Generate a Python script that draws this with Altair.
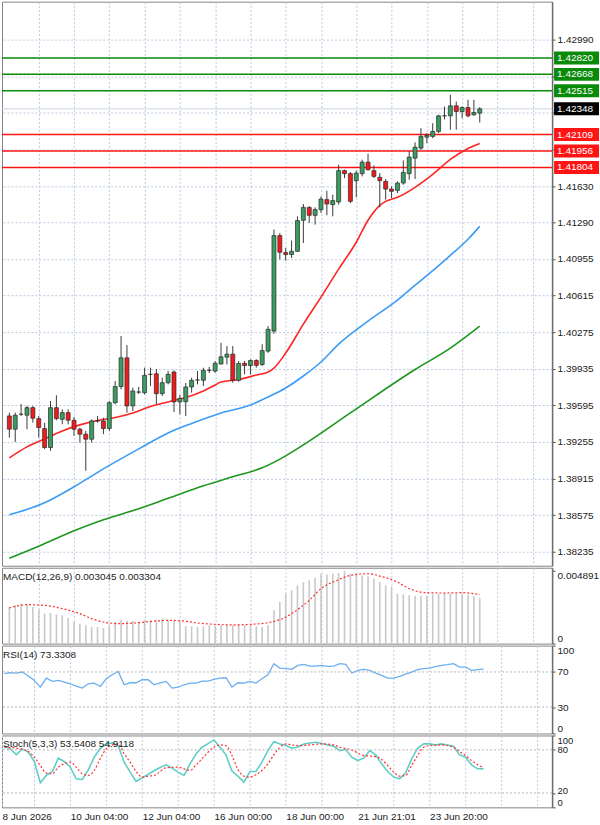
import altair as alt
import pandas as pd

# ---------------- price data (H4 candles) ----------------
open_ = [
    1.39496, 1.39373, 1.39512, 1.39503, 1.39573, 1.39471, 1.39379, 1.39203, 1.39573, 1.39465,
    1.39527, 1.39456, 1.39373, 1.39327, 1.39280, 1.39450, 1.39450, 1.39379, 1.39619, 1.39769,
    1.40036, 1.39589, 1.39718, 1.39712, 1.39882, 1.39888, 1.39703, 1.39805, 1.39904, 1.39626,
    1.39628, 1.39765, 1.39830, 1.39827, 1.39920, 1.39913, 1.39978, 1.40042, 1.40070, 1.39827,
    1.39985, 1.39964, 1.40011, 1.39973, 1.40098, 1.40284, 1.41171, 1.41013, 1.40995, 1.41025,
    1.41313, 1.41433, 1.41359, 1.41412, 1.41505, 1.41458, 1.41483, 1.41774, 1.41746, 1.41681,
    1.41746, 1.41853, 1.41774, 1.41712, 1.41674, 1.41603, 1.41591, 1.41659, 1.41746, 1.41890,
    1.41983, 1.42085, 1.42092, 1.42138, 1.42283, 1.42283, 1.42376, 1.42323, 1.42360, 1.42293,
    1.42308,
]
high = [
    1.39527, 1.39527, 1.39607, 1.39589, 1.39589, 1.39496, 1.39434, 1.39635, 1.39688, 1.39558,
    1.39558, 1.39487, 1.39388, 1.39357, 1.39465, 1.39496, 1.39480, 1.39635, 1.39820, 1.40238,
    1.40154, 1.39758, 1.39765, 1.39944, 1.39944, 1.39932, 1.39851, 1.39913, 1.39920, 1.39691,
    1.39802, 1.39851, 1.39913, 1.39944, 1.39950, 1.40006, 1.40175, 1.40145, 1.40145, 1.40006,
    1.40006, 1.40022, 1.40022, 1.40161, 1.40331, 1.41227, 1.41195, 1.41056, 1.41125, 1.41350,
    1.41464, 1.41443, 1.41433, 1.41535, 1.41588, 1.41551, 1.41829, 1.41783, 1.41761, 1.41774,
    1.41876, 1.41931, 1.41823, 1.41751, 1.41696, 1.41628, 1.41674, 1.41869, 1.41953, 1.42036,
    1.42168, 1.42122, 1.42215, 1.42293, 1.42370, 1.42478, 1.42416, 1.42370, 1.42432, 1.42432,
    1.42363,
]
low = [
    1.39295, 1.39255, 1.39496, 1.39373, 1.39434, 1.39295, 1.39188, 1.39172, 1.39456, 1.39419,
    1.39419, 1.39311, 1.39249, 1.38987, 1.39249, 1.39434, 1.39327, 1.39357, 1.39604, 1.39743,
    1.39527, 1.39542, 1.39700, 1.39697, 1.39774, 1.39607, 1.39681, 1.39789, 1.39533, 1.39512,
    1.39496, 1.39712, 1.39789, 1.39774, 1.39895, 1.39897, 1.39975, 1.39975, 1.39805, 1.39814,
    1.39882, 1.39882, 1.39944, 1.39959, 1.40082, 1.40259, 1.40949, 1.40939, 1.40963, 1.41019,
    1.41102, 1.41288, 1.41273, 1.41381, 1.41359, 1.41350, 1.41458, 1.41705, 1.41473, 1.41526,
    1.41721, 1.41774, 1.41705, 1.41433, 1.41505, 1.41520, 1.41566, 1.41644, 1.41690, 1.41696,
    1.41968, 1.42029, 1.42076, 1.42122, 1.42249, 1.42154, 1.42154, 1.42261, 1.42270, 1.42283,
    1.42221,
]
close = [
    1.39373, 1.39503, 1.39512, 1.39573, 1.39475, 1.39388, 1.39203, 1.39573, 1.39471, 1.39527,
    1.39456, 1.39373, 1.39327, 1.39280, 1.39450, 1.39450, 1.39379, 1.39619, 1.39769, 1.40036,
    1.39589, 1.39728, 1.39718, 1.39873, 1.39882, 1.39703, 1.39805, 1.39882, 1.39626, 1.39660,
    1.39765, 1.39827, 1.39830, 1.39920, 1.39920, 1.39985, 1.40045, 1.40070, 1.39827, 1.39983,
    1.39964, 1.40011, 1.39966, 1.40103, 1.40300, 1.41171, 1.41016, 1.40995, 1.41025, 1.41310,
    1.41433, 1.41359, 1.41412, 1.41510, 1.41464, 1.41496, 1.41774, 1.41746, 1.41489, 1.41751,
    1.41853, 1.41783, 1.41721, 1.41681, 1.41603, 1.41582, 1.41659, 1.41758, 1.41900, 1.41992,
    1.42092, 1.42101, 1.42138, 1.42283, 1.42283, 1.42376, 1.42323, 1.42360, 1.42283, 1.42314,
    1.42348,
]
bar_index = list(range(len(close)))

# moving averages (bar index, value)
ma_red_idx = [0, 3, 6, 9, 12, 15, 18, 21, 24, 27, 30, 33, 35, 36, 39, 42, 44, 45, 47, 50,
              53, 56, 59, 61, 63, 64, 66, 69, 72, 75, 78, 80]
ma_red_val = [1.39107, 1.39209, 1.39283, 1.39357, 1.39413, 1.39454, 1.39482, 1.39524, 1.39584,
              1.39626, 1.39667, 1.39728, 1.39783, 1.39811, 1.39834, 1.39876, 1.39904, 1.39941,
              1.40080, 1.40349, 1.40599, 1.40859, 1.41109, 1.41313, 1.41452, 1.41489, 1.41526,
              1.41619, 1.41739, 1.41878, 1.41980, 1.42027]
ma_blue_idx = [0, 6, 11, 16, 22, 27, 31, 36, 41, 44, 47, 50, 53, 56, 61, 66, 69, 72, 75, 78, 80]
ma_blue_val = [1.38578, 1.38690, 1.38838, 1.39005, 1.39190, 1.39338, 1.39426, 1.39524, 1.39598,
               1.39672, 1.39756, 1.39867, 1.39997, 1.40163, 1.40377, 1.40571, 1.40710, 1.40845,
               1.40988, 1.41137, 1.41257]
ma_green_idx = [0, 5, 11, 16, 22, 27, 33, 38, 43, 47, 50, 58, 69, 75, 80]
ma_green_val = [1.38175, 1.38286, 1.38430, 1.38532, 1.38634, 1.38731, 1.38847, 1.38931, 1.39014,
                1.39125, 1.39227, 1.39524, 1.39927, 1.40126, 1.40330]

# horizontal levels
resistance_levels = [1.42820, 1.42668, 1.42515]
support_levels = [1.42109, 1.41956, 1.41804]

# price axis ticks
price_ticks = [1.42990, 1.42650, 1.42310, 1.41970, 1.41630, 1.41290, 1.40955, 1.40615,
               1.40275, 1.39935, 1.39595, 1.39255, 1.38915, 1.38575, 1.38235]

# time axis
grid_bars = [5, 11, 17, 23, 29, 35, 41, 47, 53, 59, 65, 71, 77, 83, 89]
label_bars = [-0.4, 11, 23, 35, 47, 59, 71]
label_text = ["8 Jun 2026", "10 Jun 04:00", "12 Jun 04:00", "16 Jun 00:00",
              "18 Jun 00:00", "21 Jun 21:01", "23 Jun 20:00"]

# ---------------- indicators ----------------
macd_hist = [
    0.002461, 0.002573, 0.002684, 0.002684, 0.002461, 0.002282, 0.002013, 0.002058, 0.001969, 0.001901,
    0.001745, 0.001454, 0.001342, 0.001230, 0.001119, 0.001119, 0.001051, 0.001208, 0.001454, 0.001611,
    0.001521, 0.001521, 0.001454, 0.001611, 0.001566, 0.001611, 0.001678, 0.001611, 0.001566, 0.001499,
    0.001186, 0.001163, 0.001119, 0.001163, 0.001230, 0.001186, 0.001208, 0.001230, 0.001230, 0.001297,
    0.001230, 0.001230, 0.001163, 0.001119, 0.001230, 0.002237, 0.002796, 0.003356, 0.003579, 0.003915,
    0.004138, 0.004250, 0.004429, 0.004698, 0.004653, 0.004698, 0.004742, 0.004891, 0.004698, 0.004653,
    0.004586, 0.004519, 0.004362, 0.004138, 0.003915, 0.003803, 0.003356, 0.003311, 0.003244, 0.003199,
    0.003199, 0.003199, 0.003311, 0.003333, 0.003356, 0.003356, 0.003378, 0.003333, 0.003289, 0.003177,
    0.003045,
]
macd_sig_idx = [0, 3, 6, 9, 12, 14, 17, 19, 22, 25, 27, 30, 32, 35, 38, 41, 44, 46, 48, 51,
                53, 56, 58, 61, 63, 66, 68, 71, 74, 77, 80]
macd_sig_val = [0.002394, 0.002617, 0.002573, 0.002349, 0.002013, 0.001678, 0.001387, 0.001342,
                0.001409, 0.001521, 0.001566, 0.001499, 0.001387, 0.001297, 0.001253, 0.001297,
                0.001409, 0.001611, 0.002013, 0.002908, 0.003691, 0.004295, 0.004586, 0.004698,
                0.004541, 0.004138, 0.003691, 0.003423, 0.003400, 0.003423, 0.003304]

rsi = [
    68.00, 69.14, 68.76, 69.90, 65.33, 60.38, 52.76, 63.05, 59.24, 60.38,
    58.48, 56.57, 53.90, 51.62, 56.57, 57.33, 53.52, 62.29, 66.86, 70.67,
    55.43, 57.71, 57.71, 61.14, 61.14, 55.43, 57.71, 59.24, 51.62, 52.76,
    55.43, 57.33, 57.33, 59.62, 59.62, 61.52, 63.05, 63.43, 52.76, 57.71,
    57.33, 59.24, 57.33, 62.29, 66.86, 79.43, 74.48, 73.71, 72.95, 77.52,
    78.67, 76.76, 76.76, 77.52, 76.38, 76.76, 79.43, 78.67, 68.76, 71.81,
    72.95, 71.81, 68.76, 66.10, 63.05, 63.05, 64.95, 67.62, 69.90, 72.57,
    73.71, 74.48, 76.00, 77.52, 78.29, 79.43, 75.62, 75.62, 71.81, 72.57,
    73.3308,
]

stoch_main = [
    85.00, 81.30, 73.45, 81.30, 76.69, 63.76, 34.21, 44.37, 49.91, 68.37,
    63.76, 55.91, 39.75, 38.83, 52.22, 69.76, 82.23, 88.23, 89.61, 85.92,
    62.83, 48.98, 36.06, 41.14, 45.75, 50.83, 55.45, 59.14, 54.53, 48.98,
    44.37, 60.53, 74.38, 83.61, 88.69, 93.77, 83.61, 72.99, 50.37, 43.44,
    35.14, 49.91, 49.91, 62.83, 79.00, 91.46, 88.23, 85.92, 82.23, 84.07,
    88.23, 89.61, 90.54, 88.69, 86.84, 85.00, 79.00, 80.38, 69.76, 65.14,
    68.37, 79.00, 72.99, 60.53, 49.91, 42.06, 39.75, 48.06, 67.45, 82.23,
    88.23, 88.23, 86.84, 88.23, 86.84, 85.00, 72.99, 69.76, 59.14, 53.60,
    53.5408,
]
stoch_sig_idx = [0, 2, 4, 5, 6, 7, 8, 9, 10, 11, 12, 13, 14, 15, 16, 17, 18, 19, 20, 21,
                 22, 23, 24, 25, 27, 29, 30, 31, 32, 33, 34, 35, 36, 37, 38, 39, 40, 41, 42, 43,
                 44, 45, 46, 47, 48, 49, 51, 53, 55, 56, 58, 60, 62, 63, 64, 65, 66, 67, 68, 69,
                 70, 71, 73, 75, 76, 77, 78, 79, 80]
stoch_sig_val = [83.61, 82.23, 77.61, 69.76, 58.22, 47.60, 46.68, 55.91, 60.53, 62.83,
                 55.91, 46.68, 44.37, 51.29, 67.45, 81.30, 86.84, 88.23, 74.38, 62.83,
                 49.91, 42.06, 43.44, 44.37, 54.99, 55.91, 53.60, 51.29, 59.14, 67.45,
                 76.69, 83.61, 86.84, 85.92, 72.07, 52.68, 43.44, 42.06, 45.29, 51.29,
                 60.53, 72.99, 83.61, 88.23, 86.84, 85.92, 86.84, 88.23, 86.84, 83.61,
                 79.92, 72.07, 70.68, 66.53, 58.22, 48.98, 43.44, 44.37, 58.22, 72.07,
                 83.61, 85.92, 86.84, 83.61, 77.61, 72.07, 65.14, 59.60, 54.9118]

# ---------------- styling ----------------
FONT = "Liberation Sans"
W = 551
X_DOMAIN = [-0.4, 91.45]
PRICE_DOMAIN = [1.38105, 1.43343]
GRID_COLOR = "#bccadf"
GRID_DASH = [2, 2]
UP = "#3a9c5e"
DOWN = "#ee1c1c"
LEVEL_GREEN = "#0a8a0a"
LEVEL_RED = "#ff1414"

x_scale = alt.Scale(domain=X_DOMAIN, nice=False, zero=False)
grid_x_axis = alt.Axis(values=grid_bars, labels=False, ticks=False, domain=False, grid=True,
                       gridColor=GRID_COLOR, gridDash=GRID_DASH, title=None)


def xenc(field="i", axis=grid_x_axis):
    return alt.X(f"{field}:Q", scale=x_scale, axis=axis, title=None)


tag_prices = resistance_levels + [close[-1]] + support_levels
hidden_ticks = [t for t in price_ticks if any(abs(t - p) < 0.0004 for p in tag_prices)]
price_axis = alt.Axis(
    orient="right", values=price_ticks, title=None,
    labelExpr=f"indexof({hidden_ticks}, datum.value) >= 0 ? '' : format(datum.value, '.5f')",
    grid=True, gridColor=GRID_COLOR, gridDash=GRID_DASH,
    tickSize=3, tickColor="#555555", labelPadding=2, labelOverlap=False,
    domain=True, domainColor="#6d6d6d", domainWidth=1.5,
)
price_scale = alt.Scale(domain=PRICE_DOMAIN, nice=False, zero=False)


def yprice(field):
    return alt.Y(f"{field}:Q", scale=price_scale, axis=price_axis, title=None)


# ---------------- main price panel ----------------
candles = pd.DataFrame({"i": bar_index, "open": open_, "high": high, "low": low, "close": close})

res_df = pd.DataFrame({"price": resistance_levels})
sup_df = pd.DataFrame({"price": support_levels})
last_df = pd.DataFrame({"price": [close[-1]]})

res_rules = alt.Chart(res_df).mark_rule(color=LEVEL_GREEN, strokeWidth=1.5).encode(y=yprice("price"))
sup_rules = alt.Chart(sup_df).mark_rule(color=LEVEL_RED, strokeWidth=1.5).encode(y=yprice("price"))
last_rule = alt.Chart(last_df).mark_rule(color="#c9d1de", strokeWidth=1).encode(y=yprice("price"))


def ma_layer(idx, vals, color):
    df = pd.DataFrame({"i": idx, "ma": vals})
    return alt.Chart(df).mark_line(color=color, strokeWidth=1.6, interpolate="monotone").encode(
        x=xenc(), y=yprice("ma"))


ma_red = ma_layer(ma_red_idx, ma_red_val, "#ff2424")
ma_blue = ma_layer(ma_blue_idx, ma_blue_val, "#3c9bf5")
ma_green = ma_layer(ma_green_idx, ma_green_val, "#1e961e")

wicks = alt.Chart(candles).mark_rule(color="#3a3a3a", strokeWidth=1).encode(
    x=xenc(), y=yprice("low"), y2="high")
bodies = alt.Chart(candles).mark_bar(size=4, stroke="#2a2a2a", strokeWidth=0.7).encode(
    x=xenc(), y=yprice("open"), y2="close",
    color=alt.condition("datum.close >= datum.open", alt.value(UP), alt.value(DOWN)))

tags = pd.DataFrame({
    "price": tag_prices,
    "fill": [LEVEL_GREEN] * len(resistance_levels) + ["#000000"] + [LEVEL_RED] * len(support_levels),
    "label": [f"{p:.5f}" for p in tag_prices],
})
tag_boxes = alt.Chart(tags).mark_rect(yOffset=-6.5, y2Offset=6.5).encode(
    x=alt.value(553), x2=alt.value(598), y=yprice("price"), y2="price",
    color=alt.Color("fill:N", scale=None))
tag_text = alt.Chart(tags).mark_text(align="left", baseline="middle", font=FONT, fontSize=10,
                                     color="white").encode(
    x=alt.value(556), y=yprice("price"), text="label:N")

main = alt.layer(res_rules, sup_rules, last_rule, ma_green, ma_blue, ma_red, wicks, bodies,
                 tag_boxes, tag_text).properties(width=W, height=565)


def panel_title(text):
    return alt.Chart(pd.DataFrame({"t": [text]})).mark_text(
        align="left", baseline="middle", font=FONT, fontSize=10, color="#222222"
    ).encode(x=alt.value(1), y=alt.value(9), text="t:N")


def level_rules(values, scale, axis):
    return alt.Chart(pd.DataFrame({"v": values})).mark_rule(
        color="#b4b4b4", strokeDash=GRID_DASH, strokeWidth=1
    ).encode(y=alt.Y("v:Q", scale=scale, axis=axis, title=None))


def osc_axis(values, font_size=10, label_offset=0):
    return alt.Axis(orient="right", values=values, title=None, grid=False,
                    tickSize=3, tickColor="#555555", labelPadding=2, labelFlush=True,
                    labelOverlap=False, labelFontSize=font_size, labelOffset=label_offset,
                    domainColor="#6d6d6d", domainWidth=1.5)


# ---------------- MACD ----------------
macd_scale = alt.Scale(domain=[0, 0.0051], nice=False, zero=True)
macd_axis = alt.Axis(orient="right", values=[0, max(macd_hist)], title=None, grid=False,
                     labelExpr="datum.value == 0 ? '0' : format(datum.value, '.6f')",
                     tickSize=3, tickColor="#555555", labelPadding=2, labelFlush=4,
                     labelOverlap=False, domainColor="#6d6d6d", domainWidth=1.5)
macd_df = pd.DataFrame({"i": bar_index, "hist": macd_hist})
macd_sig_df = pd.DataFrame({"i": macd_sig_idx, "sig": macd_sig_val})
macd_bars = alt.Chart(macd_df).mark_bar(size=1.6, color="#c8c8c8").encode(
    x=xenc(), y=alt.Y("hist:Q", scale=macd_scale, axis=macd_axis, title=None))
macd_sig = alt.Chart(macd_sig_df).mark_line(color="#ff3030", strokeDash=[2, 2], strokeWidth=1.2,
                                            interpolate="monotone").encode(
    x=xenc(), y=alt.Y("sig:Q", scale=macd_scale, axis=macd_axis, title=None))
macd_panel = alt.layer(
    macd_bars, macd_sig,
    panel_title(f"MACD(12,26,9) {macd_hist[-1]:.6f} {macd_sig_val[-1]:.6f}")
).properties(width=W, height=76)

# ---------------- RSI ----------------
osc_scale = alt.Scale(domain=[0, 100], nice=False)
rsi_axis = osc_axis([0, 30, 70, 100])
rsi_df = pd.DataFrame({"i": bar_index, "rsi": rsi})
rsi_line = alt.Chart(rsi_df).mark_line(color="#6aaef0", strokeWidth=1.3).encode(
    x=xenc(), y=alt.Y("rsi:Q", scale=osc_scale, axis=rsi_axis, title=None))
rsi_panel = alt.layer(
    rsi_line, level_rules([30, 70], osc_scale, rsi_axis), panel_title(f"RSI(14) {rsi[-1]:.4f}")
).properties(width=W, height=88)

# ---------------- Stochastic ----------------
label_expr = "''"
for b, t in reversed(list(zip(label_bars, label_text))):
    label_expr = f"datum.value == {b} ? '{t}' : ({label_expr})"
time_axis = alt.Axis(values=[label_bars[0]] + grid_bars, labelExpr=label_expr, title=None,
                     grid=True, gridColor=GRID_COLOR, gridDash=GRID_DASH, ticks=False,
                     domain=False, labelAlign="left", labelPadding=4, labelFlush=False,
                     labelFont=FONT, labelFontSize=10, labelColor="#1a1a1a", labelOverlap=False)
# lift the "20" label a little so it clears the bottom-flush "0"
stoch_axis = osc_axis([0, 20, 80, 100], font_size=9.5,
                      label_offset={"condition": {"test": "datum.value == 20", "value": -2},
                                    "value": 0})
stoch_df = pd.DataFrame({"i": bar_index, "k": stoch_main})
stoch_sig_df = pd.DataFrame({"i": stoch_sig_idx, "d": stoch_sig_val})
stoch_k = alt.Chart(stoch_df).mark_line(color="#5fcfc6", strokeWidth=1.6).encode(
    x=xenc(axis=time_axis), y=alt.Y("k:Q", scale=osc_scale, axis=stoch_axis, title=None))
stoch_d = alt.Chart(stoch_sig_df).mark_line(color="#ff3030", strokeDash=[2, 2], strokeWidth=1.2,
                                            interpolate="monotone").encode(
    x=xenc(axis=time_axis), y=alt.Y("d:Q", scale=osc_scale, axis=stoch_axis, title=None))
stoch_panel = alt.layer(
    stoch_k, stoch_d, level_rules([20, 80], osc_scale, stoch_axis),
    panel_title(f"Stoch(5,3,3) {stoch_main[-1]:.4f} {stoch_sig_val[-1]:.4f}")
).properties(width=W, height=72)

chart = alt.vconcat(
    main, macd_panel, rsi_panel, stoch_panel, spacing=2, bounds="flush",
    padding=0, background="white"
).resolve_scale(x="independent", y="independent").configure_view(
    stroke="#858585", strokeWidth=1
).configure_axis(
    labelFont=FONT, labelFontSize=10, labelColor="#1a1a1a"
)

chart.save("out.html", embed_options={"renderer": "svg", "actions": False})
